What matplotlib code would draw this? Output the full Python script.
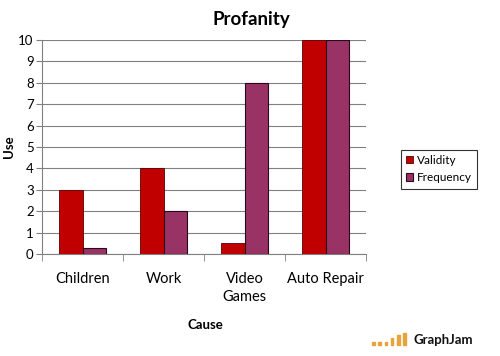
import matplotlib
matplotlib.use("Agg")
import matplotlib.pyplot as plt
import numpy as np
from matplotlib.patches import Rectangle

categories = ["Children", "Work", "Video\nGames", "Auto Repair"]
validity = [3, 4, 0.5, 10]
frequency = [0.3, 2, 8, 10]
yticks = list(range(0, 11))

plt.rcParams['font.family'] = ['Lato', 'DejaVu Sans']

fig = plt.figure(figsize=(5, 3.56), dpi=100)
ax = fig.add_axes([0.084, 0.2865, 0.648, 0.601])

x = np.arange(len(categories))
w = 0.29
ax.bar(x - w/2, validity, w, color="#C00000", edgecolor="#5a0000", linewidth=0.6, label="Validity", zorder=3)
ax.bar(x + w/2, frequency, w, color="#993366", edgecolor="#2a0a1a", linewidth=0.8, label="Frequency", zorder=3)

ax.set_xlim(-0.5, len(categories) - 0.5)
ax.set_ylim(0, 10)
ax.set_yticks(yticks)
ax.set_yticklabels([str(t) for t in yticks], fontsize=9.5)
ax.yaxis.grid(True, color="#808080", linewidth=0.8, zorder=0)
ax.set_xticks(x)
ax.set_xticklabels(categories, fontsize=10.5, linespacing=1.35)
ax.set_xticks(np.arange(-0.5, len(categories)), minor=True)
ax.tick_params(axis='x', which='major', length=0, pad=13)
ax.tick_params(axis='x', which='minor', length=5, color="#808080")
ax.tick_params(axis='y', length=4, color="#808080", pad=2)
for s in ["top", "right"]:
    ax.spines[s].set_visible(False)
for s in ["left", "bottom"]:
    ax.spines[s].set_color("#808080")

fig.text(0.502, 0.945, "Profanity", fontsize=13.5, fontweight="bold", ha="center", va="center")
fig.text(0.018, 0.587, "Use", fontsize=9.5, fontweight="bold", ha="center", va="center", rotation=90)
fig.text(0.41, 0.087, "Cause", fontsize=9.5, fontweight="bold", ha="center", va="center")

leg = ax.legend(loc="center left", bbox_to_anchor=(1.108, 0.397), fontsize=8.5,
                frameon=True, fancybox=False, edgecolor="black",
                handlelength=0.6, handleheight=0.6, handletextpad=0.3,
                borderpad=0.45, labelspacing=0.55, borderaxespad=0)
leg.get_frame().set_linewidth(0.8)

# GraphJam logo
fig.text(0.826, 0.044, "GraphJam", fontsize=9.5, fontweight="bold", ha="left", va="center", color="#111111")
sizes = [0.004, 0.004, 0.004, 0.016, 0.024, 0.032]
for i, h in enumerate(sizes):
    fig.patches.append(Rectangle((0.744 + i*0.0125, 0.030), 0.005, h * 1.0 + 0.004,
                                 transform=fig.transFigure, color="#e8a33a"))

fig.savefig("out.png", dpi=100)
